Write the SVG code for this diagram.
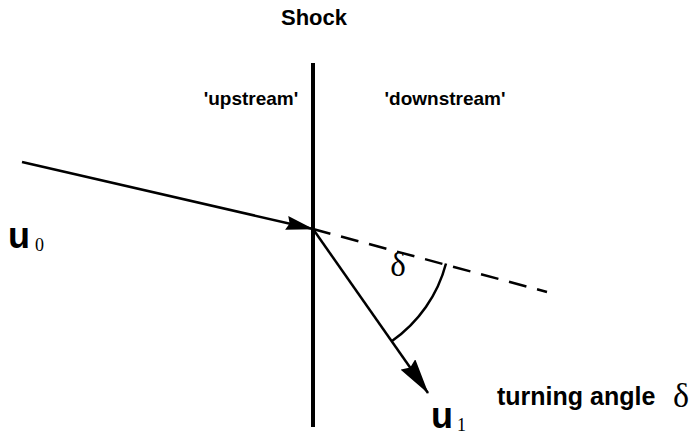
<svg xmlns="http://www.w3.org/2000/svg" width="693" height="436" viewBox="0 0 693 436">
<defs>
<style>
.lbl{font-family:"Liberation Sans",Arial,sans-serif;font-weight:bold;font-size:19px;fill:#000}
.vec{font-family:"Liberation Sans",Arial,sans-serif;font-weight:bold;font-size:36px;fill:#000}
.sub{font-family:"Liberation Serif","Times New Roman",serif;font-size:18px;fill:#000}
.greek{font-family:"Liberation Serif","Times New Roman",serif;fill:#000}
.ln{stroke:#000;fill:none;stroke-width:2.5}
</style>
<marker id="ah" markerWidth="28" markerHeight="14" refX="27" refY="7" orient="auto" markerUnits="userSpaceOnUse" viewBox="0 0 28 14">
<path d="M0,0 L28,7 L0,14 L3,7 z" fill="#000"/>
</marker>
<marker id="ah2" markerWidth="36" markerHeight="18" refX="35" refY="9" orient="auto" markerUnits="userSpaceOnUse" viewBox="0 0 36 18">
<path d="M0,0 L36,9 L0,18 L4,9 z" fill="#000"/>
</marker>
</defs>
<rect width="693" height="436" fill="#fff"/>
<g id="shock">
<line x1="313" y1="63" x2="313" y2="427" stroke="#000" stroke-width="4"/>
<text class="lbl" x="314" y="25" text-anchor="middle" style="font-size:22px">Shock</text>
</g>
<g id="upstream"><text class="lbl" x="251" y="105" text-anchor="middle">'upstream'</text></g>
<g id="downstream"><text class="lbl" x="445" y="105" text-anchor="middle">'downstream'</text></g>
<g id="connectors">
<line class="ln" x1="22" y1="162" x2="313" y2="229" marker-end="url(#ah)"/>
<line class="ln" x1="313" y1="229" x2="547" y2="292" stroke-dasharray="18,11"/>
<line class="ln" x1="313" y1="229" x2="428" y2="393" marker-end="url(#ah2)"/>
<path class="ln" d="M446,263.5 A137,137 0 0 1 392,341"/>
</g>
<g id="u0"><text class="vec" x="8" y="248">u</text><text class="sub" x="35" y="251">0</text></g>
<g id="u1"><text class="vec" x="431" y="428">u</text><text class="sub" x="457" y="431">1</text></g>
<g id="delta"><text class="greek" x="398" y="276" style="font-size:33px" text-anchor="middle">δ</text></g>
<g id="turning"><text class="lbl" x="497" y="405" style="font-size:25px">turning angle</text><text class="greek" x="673" y="407" style="font-size:34px">δ</text></g>
</svg>
